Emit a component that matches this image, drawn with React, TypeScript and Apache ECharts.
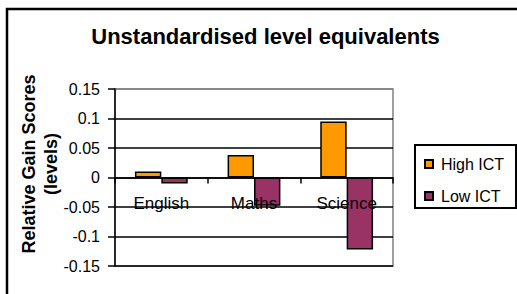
import React, { useEffect, useRef } from "react";
import * as echarts from "echarts";

const categories = ["English", "Maths", "Science"];
const highICT = [0.01, 0.038, 0.095];
const lowICT = [-0.01, -0.048, -0.122];
const seriesNames = ["High ICT", "Low ICT"];
const titleText = "Unstandardised level equivalents";
const yAxisTitle = "Relative Gain Scores\n(levels)";

const FONT = "'Liberation Sans', Arial, Helvetica, sans-serif";

export default function App() {
  const ref = useRef<HTMLDivElement>(null);
  useEffect(() => {
    if (!ref.current) return;
    const chart = echarts.init(ref.current, undefined, { renderer: "svg" });
    chart.setOption({
      animation: false,
      backgroundColor: "#ffffff",
      textStyle: { fontFamily: FONT },
      grid: { left: 115, top: 89, width: 278, height: 177, show: true, borderColor: "#808080", borderWidth: 1.5, backgroundColor: "transparent" },
      legend: {
        orient: "vertical",
        left: 424,
        top: 156,
        itemWidth: 8,
        itemHeight: 8,
        itemGap: 16,
        padding: 0,
        icon: "rect",
        data: seriesNames,
        textStyle: { fontSize: 16, color: "#000", fontFamily: FONT, padding: [0, 0, 0, 3] },
      },
      xAxis: {
        type: "category",
        data: categories,
        position: "bottom",
        offset: -88.5,
        z: 5,
        axisLine: { onZero: false, lineStyle: { color: "#000", width: 1.5 } },
        axisTick: { show: true, length: 6, lineStyle: { color: "#000", width: 1.5 } },
        axisLabel: { fontSize: 17, color: "#000", margin: 17, fontFamily: FONT },
        splitLine: { show: false },
      },
      yAxis: {
        type: "value",
        min: -0.15,
        max: 0.15,
        interval: 0.05,
        axisLine: { show: true, lineStyle: { color: "#000", width: 1.5 } },
        axisTick: { show: true, length: 7, lineStyle: { color: "#000", width: 1.5 } },
        axisLabel: {
          fontSize: 16,
          color: "#000",
          margin: 15,
          fontFamily: FONT,
          formatter: (v: number) => String(Number(v.toFixed(2))),
        },
        splitLine: {
          show: true,
          lineStyle: { color: ["#000", "#000", "#000", "#000", "#000", "#000", "#808080"], width: 1.5 },
        },
      },
      series: [
        {
          name: seriesNames[0],
          type: "bar",
          data: highICT,
          barGap: "0%",
          barCategoryGap: "43%",
          itemStyle: { color: "#FF9900", borderColor: "#000", borderWidth: 1.5 },
        },
        {
          name: seriesNames[1],
          type: "bar",
          data: lowICT,
          barGap: "0%",
          barCategoryGap: "43%",
          itemStyle: { color: "#993366", borderColor: "#000", borderWidth: 1.5 },
        },
      ],
      graphic: [
        {
          type: "polyline",
          shape: { points: [[7, 294], [7, 9], [517, 9]] },
          style: { stroke: "#000", lineWidth: 2.5, fill: "none" },
          z: 100,
        },
        {
          type: "text",
          x: 265.5,
          y: 36,
          style: {
            text: titleText,
            font: `bold 22px ${FONT}`,
            fill: "#000",
            textAlign: "center",
            textVerticalAlign: "middle",
          },
        },
        {
          type: "text",
          x: 40,
          y: 164,
          rotation: Math.PI / 2,
          style: {
            text: yAxisTitle,
            font: `bold 18px ${FONT}`,
            fill: "#000",
            textAlign: "center",
            textVerticalAlign: "middle",
            lineHeight: 22,
          },
        },
        {
          type: "rect",
          shape: { x: 415, y: 145, width: 101, height: 63 },
          style: { stroke: "#000", lineWidth: 2, fill: "none" },
        },
      ],
    });
    return () => chart.dispose();
  }, []);
  return <div ref={ref} style={{ position: "absolute", left: 0, top: 0, width: 517, height: 294 }} />;
}
